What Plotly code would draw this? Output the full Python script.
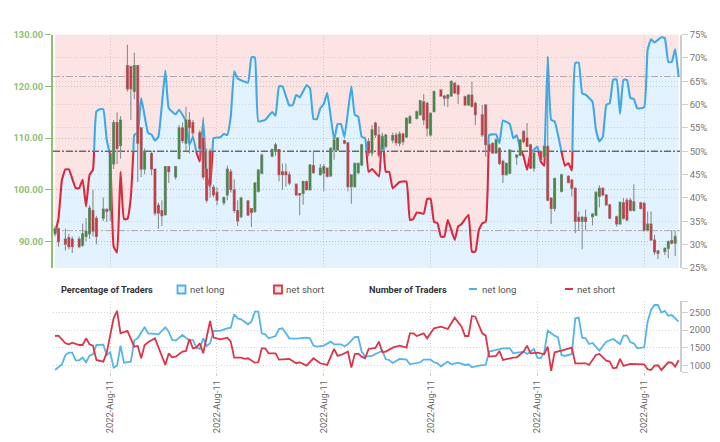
import plotly.graph_objects as go

# ---------- price candles ----------
candle_slot = [0,1,3,4,5, 7,8,9,10,11,12, 14,15,16,17,18,19, 21,22,23,24,25,26, 28,29,30,31,32,33,
 35,36,37,38,39,40, 42,43,44,45,46,47, 49,50,51,52,53,54, 56,57,58,59,60,
 63,64,65,66,67,68, 70,71,72,73,74,75, 77,78,79,80,81,82, 84,85,86,87,88,89,
 91,92,93,94,95,96, 98,99,100,101,102,103, 105,106,107,108,109,110, 112,113,114,115,116,117,
 119,120,121,122,124, 125,126,127,128,129, 130,131,132, 134,135,136,137,138,139,
 141,142,143,144,145,147, 149,150,151,152,153,154, 156,157,158,159,160,161,
 163,164,165,166,167,168, 170,171,172,173,174,175, 177,178,179,180]
candle_high = [93,92.7,92.5,91.5,91, 91,93.5,94.5,97,100,95, 98.5,96.5,107,113.5,115,114.2, 128,124,126.5,124,112,108, 107.5,104,97.5,98,104.5,104.5,
 104.5,112.5,113,116,115,113.5, 111.5,114,108,108,101,100.5, 98.7,104.7,104,102,98,98.7, 98,96.5,101.5,104,107,
 108,109.1,107.9,105.1,105.1,103.5, 101.2,99.4,101.8,101.8,105,107.4, 105,105,104.3,108.2,110.3,110.2, 109.7,109.3,103,105.3,105.3,108.9,
 110,112.5,113.2,112.3,111,110.8, 111,111,111.3,111,114,114.5, 115.3,117.4,118.5,117,115,119.2, 119.4,118.3,118.5,121.2,120.8,120.3,
 118.2,118.5,120.9,117,116.4, 116.6,108.9,109.2,110,108.2, 105.8,105.3,107.9, 106.9,109.8,111.5,112.9,108.9,107.3,
 107.6,108.6,125.7,98.6,102.4,103.1, 102.8,102.1,100.5,95.8,95,96.2, 95.5,99.7,100.9,100.5,99.2,97.3,
 95,97.8,98.4,98.4,98.4,101.1, 97.7,97.6,95.8,95.8,91.3,88.4, 88.9,90.2,92.2,92.1]
candle_low = [91,89,88.3,88.5,87.8, 88.7,89,90,90.5,91,89.5, 94,93.8,94,104,105,106, 119,113.5,117.5,101.5,102.5,103, 102.8,95,92.5,93,95,101.3,
 102,106,109,107.5,107,110, 106,102,97.5,98.5,98.5,97, 97,98,99.5,95.5,93,94.5, 95,92.8,95.5,99.5,103,
 106.3,106.6,101.6,100,100.6,100.9, 98.8,95.1,97.1,99.8,99.8,103.1, 102.7,99.7,102.4,102.5,105.8,107.5, 108.8,99.7,97.3,100.4,103,104.5,
 106.5,106.5,110,106.2,107.5,108, 109,108.5,108.4,108.6,110,112.7, 113.6,114.3,112.5,110.3,110.3,115, 118,116.2,116,118,118.5,116.6,
 116.2,116.2,115.9,112.5,110.2, 106.4,107,106.9,106.9,104.8, 101.3,102.7,103, 104.8,106.5,109,108.2,104,103.5,
 105.6,106.2,97.8,93.4,95.8,99.5, 101.2,98.7,91.6,92.1,88.5,92.1, 93.1,94.9,96.6,98.8,96.9,94.3,
 92.9,93.2,94.2,93.9,95.8,95.8, 96.2,91.9,92,90.1,87.4,86.6, 87.4,86.8,89.5,87.2]
candle_open = [91.5,92.5,90.5,90.8,90.5, 90.5,89.3,91,91.5,96,94.5, 94.5,96.2,96,105,113,108.5, 124,123.8,119,124,112,104, 107,104,97,96,95.2,104.5,
 102.5,106,112,109,113.5,113, 111,110,104,107.5,100.5,99.5, 97.5,99,103.5,100,96,94.8, 97.9,96.4,95.8,99.7,103.2,
 106.5,107.4,107.8,103.5,103.5,102.9, 101.1,99.3,99.3,101.6,100,104.7, 102.9,103.2,104.2,102.7,107.7,107.7, 109.5,109.1,100.6,100.6,103.3,104.8,
 109.3,107.1,112.9,110.6,108,108.4, 109.6,110.6,109,110.8,110.2,112.9, 113.8,114.5,117,116.7,110.6,115.1, 119.3,118.1,117.7,118.1,120.6,120.1,
 118,116.4,118.3,116.7,114.5, 116.4,108.7,109,107.1,108, 105.5,102.9,103.2, 106.3,106.7,111.3,110,108.7,104.2,
 107.4,106.4,108.4,98.4,96.4,99.7, 102.6,101.9,100.3,94.7,93.9,94.7, 94.8,95.1,98.7,100.3,99,97.1,
 94.8,93.4,97.5,98,98,96, 97.5,97.4,92.2,93.4,90.3,88.2, 88.1,88.7,90.2,89.7]
candle_close = [92.5,90,89.5,89,89, 89,91.5,92,96.5,92,91, 96.3,95.8,107,113,108,113.5, 119.5,119.5,124,109,104,107.5, 104,95.5,95.5,95,104.5,103.5,
 104.5,112,109.5,113.5,112,111, 108,102.5,98,101,99,98, 98.5,104,100,96,94,98.4, 95.1,95.6,101.3,103.8,106.7,
 107.8,108.7,102.9,102.9,102.9,101.3, 99,99,101.6,100,104.8,103.3, 104.2,104.5,102.6,108,109.6,110, 109,100.6,102.9,105.1,105.1,108.7,
 107.1,111.6,110.6,106.7,110.3,110.6, 110.5,109.1,110.8,109.3,113.8,114.1, 115.1,117.2,113.5,111.9,114.8,119, 118.1,117.7,118.3,120.9,118.7,118.5,
 116.4,118.3,116.1,114.5,110.6, 108.7,107.4,107.1,109.6,105.1, 102.9,105.1,107.7, 106.7,109.6,109.3,108.4,104.2,107.1,
 105.8,108.4,98,96.4,102.2,102.9, 101.4,100.3,93.9,93.9,94.7,93.9, 95.3,99.5,100.3,99,97.1,94.5,
 93.4,97.6,94.5,94.2,96,97.7, 96.4,92.2,93.4,90.3,88,87.7, 88.7,90,89.7,91]
assert len({len(candle_slot),len(candle_high),len(candle_low),len(candle_open),len(candle_close)})==1, (len(candle_slot),len(candle_high),len(candle_low),len(candle_open),len(candle_close))

# ---------- net-long percentage ----------
pct_slot = [0,1,2,3,4,6,7,8,9,10,11,12,13,14,15,16,17,18,19,20,21,22,23,24,25,27,28,29,30,32,33,35,36,38,39,40,41,42,43,44,45,46,48,49,50,51,52,53,56,57,58,59,61,63,64,65,66,68,69,70,71,73,74,75,76,77,78,79,81,82,83,84,86,87,88,89,90,91,92,94,95,96,97,98,100,102,103,104,105,107,108,109,110,111,112,113,114,116,117,118,120,121,122,123,124,125,126,128,129,130,132,133,134,135,136,137,138,140,141,142,143,144,145,147,148,149,150,151,152,153,154,156,157,158,159,160,161,162,163,164,165,166,167,168,169,171,172,173,174,176,177,178,179,180,181]
pct_long = [32.4,35.6,43.9,46.1,46.1,42.1,42.1,43.9,38.2,44.9,46.0,58.5,59.0,59.0,52.4,49.2,29.6,28.3,45.6,35.5,35.5,40.3,53.5,53.9,61.4,53.9,53.6,52.3,53.1,67.3,59.2,57.9,58.9,56.4,51.4,53.1,49.9,47.8,56.7,44.6,42.4,52.8,53,53.7,53.5,57.4,67.1,65.6,64.7,70.1,70.1,56.4,56.7,58.4,57.6,63.9,63.9,59.8,59.9,62.1,61.5,64.1,63.5,56.9,56.9,59.2,60.1,62.5,52.4,55.8,55.8,53,63.9,57.8,57.4,53.1,52.8,45.6,46.2,44.6,53.5,45.6,45.6,42.1,43.4,43.5,35.3,35.5,36.9,36.6,39.8,39.8,34.9,34.6,31.7,31.7,35.3,31,33.9,34.4,36.4,28.5,28.5,33.1,34.6,34.9,53.5,53.6,51.7,56.6,55.8,52.8,53.4,50.6,48.9,46,49.6,51,47.8,46.9,70.3,56.7,56.4,49.9,46.9,47.4,45.9,68.9,69,62.4,62.1,60.6,54.6,52.1,53.1,59.9,60.3,65.3,65.4,58,65.3,65.3,61.4,61.2,59.2,59.4,71.7,74,73.3,74.4,74.2,69.1,69.1,71.9,66]
assert len(pct_slot)==len(pct_long), (len(pct_slot),len(pct_long))

# ---------- number of traders ----------
num_long_slot = [0,2,3,4,5,6,7,8,9,10,11,12,14,15,16,17,18,19,20,22,23,24,26,27,29,30,32,33,34,35,37,39,40,41,42,43,44,45,46,48,50,51,52,53,54,56,57,58,59,60,61,62,64,65,66,68,70,73,74,75,76,78,80,81,83,84,85,87,88,89,90,92,93,95,96,97,98,100,102,103,106,107,109,110,111,112,114,115,117,119,120,121,123,125,126,128,130,132,133,136,137,138,139,140,141,142,143,145,146,147,148,150,151,152,153,154,155,156,158,160,162,164,165,166,167,168,169,171,172,173,174,175,176,177,178,179,181]
num_long = [878,1038,1300,1366,1366,1150,1150,1225,1094,1281,1319,1581,1591,1300,1375,944,1000,1563,1084,1113,1713,1769,2088,1909,1891,1881,2078,1956,1722,1703,1863,1703,1722,1516,1469,1769,1553,1628,1975,1984,2050,2069,2444,2331,2303,2163,2238,2519,2519,1909,1881,1769,1834,2031,2050,1769,1759,1788,1769,1563,1534,1563,1675,1600,1600,1544,1600,1806,1806,1394,1253,1272,1328,1422,1178,1159,1075,1188,1169,1038,1094,1169,1169,1094,1066,981,1113,1038,1084,1019,1038,953,1000,1019,1394,1441,1488,1488,1347,1394,1328,1394,1469,1225,1206,1375,1984,1844,1797,1300,1272,1328,2331,2350,1788,1769,1609,1638,1422,1675,1750,1609,1844,1844,1656,1628,1488,1516,2238,2566,2706,2706,2491,2538,2406,2425,2238]
assert len(num_long_slot)==len(num_long), (len(num_long_slot),len(num_long))
num_short_slot = [0,1,3,4,5,7,8,9,10,11,12,14,15,17,18,19,21,23,24,25,26,27,29,30,32,33,34,35,37,38,39,40,41,42,43,45,46,48,50,51,52,54,55,56,58,59,60,61,62,64,65,68,70,71,73,75,77,79,81,82,83,85,86,87,88,89,90,91,93,94,95,96,98,100,102,103,104,105,107,108,110,112,114,116,118,119,120,121,122,124,125,126,128,129,130,133,134,136,137,138,140,142,143,144,145,147,150,151,154,155,157,158,160,161,162,163,164,165,167,171,172,173,174,175,176,178,179,180,181]
num_short = [1834,1844,1628,1600,1647,1581,1581,1769,1600,1563,1159,1113,1366,2331,2538,1909,1975,1534,1553,1206,1581,1656,1769,1506,1019,1347,1234,1253,1394,1413,1750,1488,1506,1628,1347,2256,1788,1741,1788,1675,1225,1225,1188,1206,1084,1094,1488,1488,1347,1347,1169,1188,1066,1094,1000,1206,1066,1019,1469,1272,1300,1394,944,1328,1338,1253,1206,1469,1497,1675,1375,1394,1506,1563,1506,1909,1909,1834,1909,1769,2050,2097,2031,2350,2097,1834,1834,2397,2378,1909,1844,1253,1272,1413,1159,1225,1234,1394,1563,1347,1366,1319,1534,850,1375,1422,1506,1066,1066,1019,1300,1328,1141,1113,925,944,1188,991,1047,1038,897,878,1000,1009,878,1094,1084,972,1150]
assert len(num_short_slot)==len(num_short), (len(num_short_slot),len(num_short))

sentiment_levels = [33, 50, 66]
tick_slots = [16, 47, 78, 109, 140, 171]
tick_labels = ["2022-Aug-11"] * 6
price_ticks = [90, 100, 110, 120, 130]
pct_ticks = [25, 30, 35, 40, 45, 50, 55, 60, 65, 70, 75]
num_ticks = [1000, 1500, 2000, 2500]

W, H = 720, 442
FONT = "Roboto"
BLUE, RED = "#3fa9e6", "#d9293f"
SMOOTH = 0.35
px = lambda v: v / W
py = lambda v: 1 - v / H
X_RANGE = [-0.6, 181.4]

fig = go.Figure()
# background fills, from the sentiment line out to the edges of the percentage axis
fig.add_trace(go.Scatter(x=pct_slot, y=[75] * len(pct_slot), mode="lines", line=dict(width=0), showlegend=False, hoverinfo="skip"))
fig.add_trace(go.Scatter(x=pct_slot, y=pct_long, mode="lines", line=dict(width=0, shape="spline", smoothing=SMOOTH),
                         fill="tonexty", fillcolor="rgba(248,170,170,0.32)", showlegend=False, hoverinfo="skip"))
fig.add_trace(go.Scatter(x=pct_slot, y=[25] * len(pct_slot), mode="lines", line=dict(width=0), showlegend=False, hoverinfo="skip"))
fig.add_trace(go.Scatter(x=pct_slot, y=pct_long, mode="lines", line=dict(width=0, shape="spline", smoothing=SMOOTH),
                         fill="tonexty", fillcolor="rgba(140,205,250,0.25)", showlegend=False, hoverinfo="skip"))
# reference levels
for lv in sentiment_levels:
    fig.add_trace(go.Scatter(x=X_RANGE, y=[lv, lv], mode="lines", showlegend=False, hoverinfo="skip",
                             line=dict(color="#6a6a6a" if lv == 50 else "#b3a8b0", width=1.3 if lv == 50 else 1,
                                       dash="7px,2px,2px,2px")))
# sentiment line: blue above 50 %, red below, split where it crosses
pieces, cur, side = [], [], None
for i, (s, v) in enumerate(zip(pct_slot, pct_long)):
    this = v >= 50
    if side is not None and this != side:
        s0, v0 = pct_slot[i - 1], pct_long[i - 1]
        sx = s0 + (50 - v0) / (v - v0) * (s - s0)
        cur.append((sx, 50))
        pieces.append((side, cur))
        cur = [(sx, 50)]
    cur.append((s, v))
    side = this
pieces.append((side, cur))
for up, pts in pieces:
    fig.add_trace(go.Scatter(x=[p[0] for p in pts], y=[p[1] for p in pts], mode="lines", showlegend=False, hoverinfo="skip",
                             line=dict(color=BLUE if up else RED, width=2.1, shape="spline", smoothing=SMOOTH)))

# candles: grey wicks first, coloured bodies over them
wick = dict(line=dict(color="#8d8d8d", width=1.1), fillcolor="rgba(0,0,0,0)")
fig.add_trace(go.Candlestick(x=candle_slot, open=candle_open, high=candle_high, low=candle_low, close=candle_close,
                             xaxis="x", yaxis="y2", increasing=wick, decreasing=wick, showlegend=False, hoverinfo="skip"))
fig.add_trace(go.Candlestick(x=candle_slot, open=candle_open, high=candle_high, low=candle_low, close=candle_close,
                             xaxis="x", yaxis="y2", showlegend=False, hoverinfo="skip",
                             increasing=dict(line=dict(color="#3f8a3f", width=0), fillcolor="#3f8a3f"),
                             decreasing=dict(line=dict(color="#d2333f", width=0), fillcolor="#d2333f")))

# lower panel
fig.add_trace(go.Scatter(x=num_long_slot, y=num_long, xaxis="x2", yaxis="y3", mode="lines", showlegend=False, hoverinfo="skip",
                         line=dict(color="#55b4ea", width=1.8)))
fig.add_trace(go.Scatter(x=num_short_slot, y=num_short, xaxis="x2", yaxis="y3", mode="lines", showlegend=False, hoverinfo="skip",
                         line=dict(color="#d9364a", width=1.8)))

DOM_X = [px(53), px(680)]
V_GRID = "rgba(150,150,150,0.45)"
DOT = "1px,2px"
lay_x = dict(range=X_RANGE, domain=DOM_X, tickmode="array", tickvals=tick_slots, showgrid=True, gridcolor=V_GRID,
             griddash=DOT, gridwidth=1, zeroline=False, rangeslider=dict(visible=False))
NUM_RANGE = [812, 2819]

annotations = []
def label(x, y, text, bold=False, color="#555555", size=9.6):
    annotations.append(dict(x=px(x), y=py(y), xref="paper", yref="paper", text=f"<b>{text}</b>" if bold else text,
                            showarrow=False, xanchor="left", yanchor="middle", align="left",
                            font=dict(family=FONT, size=size, color=color)))
label(59, 289, "Percentage of Traders", True, "#333333", 9.2)
label(188, 289, "net long")
label(284, 289, "net short")
label(367, 289, "Number of Traders", True, "#333333", 9.2)
label(480, 289, "net long")
label(575, 289, "net short")

shapes = [
    dict(type="rect", xref="paper", yref="paper", x0=px(177.5), x1=px(185.5), y0=py(293.5), y1=py(285.5),
         line=dict(color="#4fb0e8", width=1.8), fillcolor="#e3f2fd"),
    dict(type="rect", xref="paper", yref="paper", x0=px(274), x1=px(282), y0=py(293.5), y1=py(285.5),
         line=dict(color="#d9364a", width=1.8), fillcolor="#fde2e2"),
    dict(type="line", xref="paper", yref="paper", x0=px(469), x1=px(477), y0=py(289), y1=py(289), line=dict(color="#4fb0e8", width=2)),
    dict(type="line", xref="paper", yref="paper", x0=px(565), x1=px(573), y0=py(289), y1=py(289), line=dict(color="#d9364a", width=2)),
]

fig.update_layout(
    width=W, height=H, margin=dict(l=0, r=0, t=0, b=0, pad=0, autoexpand=False), paper_bgcolor="white", plot_bgcolor="white",
    showlegend=False, font=dict(family=FONT), annotations=annotations, shapes=shapes, boxgap=0.2,
    xaxis=dict(lay_x, showticklabels=False, ticks="", anchor="y"),
    xaxis2=dict(lay_x, anchor="y3", showticklabels=True, ticktext=tick_labels, tickangle=-90, ticks="outside", ticklen=3,
                tickcolor="#cccccc", tickfont=dict(family=FONT, size=9.4, color="#666666"), matches=None),
    yaxis=dict(domain=[py(268), py(34.5)], range=[25, 75], side="right", anchor="x", tickmode="array", tickvals=pct_ticks,
               ticktext=[f"{t}%" for t in pct_ticks], showgrid=True, gridcolor="rgba(150,150,150,0.35)", griddash=DOT,
               zeroline=False, showline=True, linecolor="#cfcfcf", linewidth=1.5, ticks="outside", ticklen=6, tickcolor="#cfcfcf",
               tickfont=dict(family=FONT, size=9.5, color="#777777")),
    yaxis2=dict(domain=[py(268), py(34.5)], range=[84.9, 130], side="left", overlaying="y", anchor="x", tickmode="array",
                tickvals=price_ticks, ticktext=[f"<b>{t:.2f}</b>" for t in price_ticks], showgrid=True, gridcolor="rgba(110,170,90,0.55)",
                griddash=DOT, zeroline=False, showline=True, linecolor="#8fbf73", linewidth=2, ticks="outside", ticklen=6,
                tickcolor="#8fbf73", tickfont=dict(family=FONT, size=9.4, color="#8fbf73")),
    yaxis3=dict(domain=[py(372.3), py(301)], range=NUM_RANGE, side="right", anchor="x2", tickmode="array",
                tickvals=[NUM_RANGE[0]] + num_ticks + [NUM_RANGE[1]], ticktext=[""] + [str(t) for t in num_ticks] + [""],
                showgrid=True, gridcolor="rgba(150,150,150,0.4)", griddash=DOT, zeroline=False, showline=True,
                linecolor="#cfcfcf", linewidth=1.5, ticks="outside", ticklen=6, tickcolor="#cfcfcf",
                tickfont=dict(family=FONT, size=9.3, color="#777777")),
)
fig.write_html("out.html", config={"displayModeBar": False},
               post_script="document.body.style.margin='0';document.documentElement.style.overflow='hidden';")
